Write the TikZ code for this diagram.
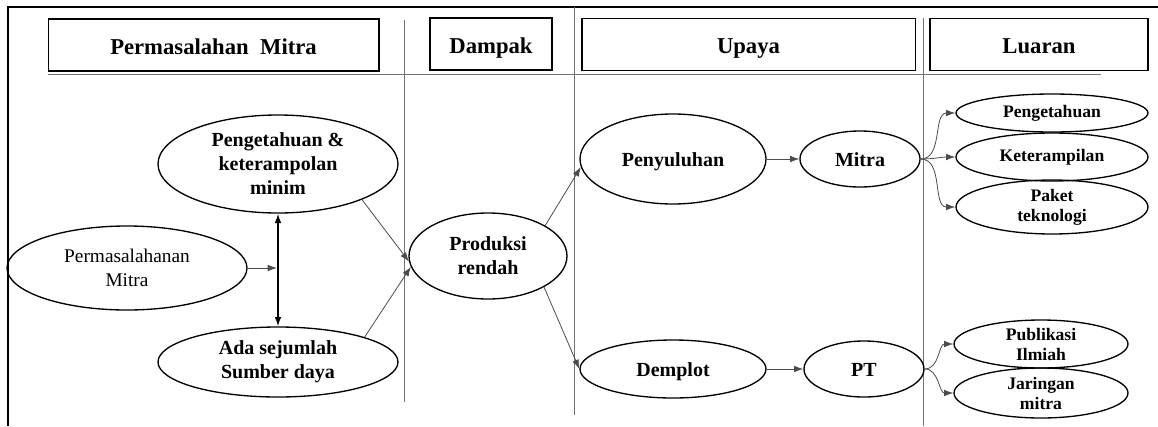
\documentclass[tikz,border=0pt]{standalone}
\usepackage{fontspec}
\setmainfont{Liberation Serif}
\usetikzlibrary{arrows.meta}
\usetikzlibrary{shapes.geometric}

\begin{document}
\begin{tikzpicture}[x=0.75pt,y=-0.75pt,->,>={Latex[length=7pt,width=5pt]},thick]
      \tikzstyle{head box} = [draw, rectangle, line width=1pt, inner sep=0pt, text height=13.5pt, text depth=0pt, font=\bfseries\fontsize{17}{20}\selectfont]
      \tikzstyle{oval} = [draw, ellipse, line width=1pt, inner sep=0pt, align=center, font=\bfseries\fontsize{15}{18}\selectfont]
      \tikzstyle{one line} = [text height=11pt, text depth=0pt]
      \tikzstyle{small oval} = [oval, font=\bfseries\fontsize{13.2}{15}\selectfont]
      \tikzstyle{line} = [draw=black!70, line width=0.6pt]
      \tikzstyle{sep} = [draw=black!55, line width=0.7pt, -]
      \useasboundingbox (0,0) rectangle (1158,426);

      %frame and column lines
      \draw[-, line width=1.3pt] (8,426) -- (8,7) -- (1158,7);
      \draw[sep] (404,20) -- (404,402);
      \draw[sep] (574,7) -- (574,415);
      \draw[sep] (923,18) -- (923,426);
      \draw[sep] (48,74.5) -- (1101,74.5);

      %headers
      \node[head box, minimum width=248pt, minimum height=39pt] (masalah') at (213.5,45) {Permasalahan \ Mitra};
      \node[head box, minimum width=91.5pt, minimum height=39pt] (dampak') at (491,44) {Dampak};
      \node[head box, minimum width=250pt, minimum height=39pt] (upaya') at (748.5,44.5) {Upaya};
      \node[head box, minimum width=163.5pt, minimum height=39pt] (luaran') at (1039,44.5) {Luaran};

      %nodes
      \node[oval, font=\fontsize{14.5}{18.5}\selectfont, minimum width=180pt, minimum height=63pt] (permasalahanan') at (127,268) {Permasalahanan\\Mitra};
      \node[oval, minimum width=180pt, minimum height=73.5pt] (peng') at (278,164) {Pengetahuan \&\\keterampolan\\minim};
      \node[oval, minimum width=180pt, minimum height=52.5pt] (ada') at (278,362) {Ada sejumlah\\Sumber daya};
      \node[oval, minimum width=118.5pt, minimum height=64.5pt] (prod') at (488,256) {Produksi\\rendah};
      \node[oval, one line, minimum width=139.5pt, minimum height=67.5pt] (peny') at (673,159) {Penyuluhan};
      \node[oval, one line, minimum width=139.5pt, minimum height=43.5pt] (demp') at (673,369) {Demplot};
      \node[oval, one line, minimum width=90pt, minimum height=42pt] (mitra') at (860,159) {Mitra};
      \node[oval, one line, minimum width=90pt, minimum height=42pt] (pt') at (864,369) {PT};
      \node[small oval, minimum width=144pt, minimum height=28.5pt] (tahu') at (1052,113) {Pengetahuan};
      \node[small oval, minimum width=144pt, minimum height=36pt] (terampil') at (1052,157) {Keterampilan};
      \node[small oval, minimum width=144pt, minimum height=40.5pt] (paket') at (1052,207) {Paket\\teknologi};
      \node[small oval, minimum width=130.5pt, minimum height=36pt] (publikasi') at (1041,344) {Publikasi\\Ilmiah};
      \node[small oval, minimum width=130.5pt, minimum height=37.5pt] (jaringan') at (1041,393) {Jaringan\\mitra};
      \coordinate (junction') at (277,268);

      %lines
      \draw[line] (permasalahanan') -- (junction');
      \draw[<->, line width=1.1pt] (peng') -- (ada');
      \draw[line] (peng'.-23) -- (prod'.184);
      \draw[line] (ada'.16) -- (prod'.188);
      \draw[line] (prod'.28) -- (peny'.185);
      \draw[line] (prod'.-29) -- (demp'.west);
      \draw[line] (peny') -- (mitra');
      \draw[line] (demp') -- (pt');
      \draw[line] (mitra'.east) to[out=0,in=180] (tahu'.west);
      \draw[line] (mitra'.east) to[out=0,in=180] (terampil'.west);
      \draw[line] (mitra'.east) to[out=0,in=180] (paket'.west);
      \draw[line] (pt'.east) to[out=0,in=180] (publikasi'.west);
      \draw[line] (pt'.east) to[out=0,in=180] (jaringan'.west);
    \end{tikzpicture}
\end{document}
